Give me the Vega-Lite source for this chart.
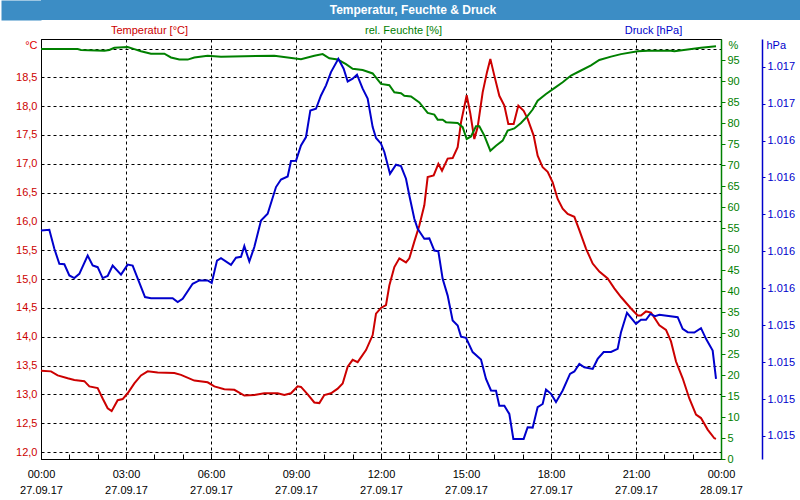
{
  "$schema": "https://vega.github.io/schema/vega-lite/v6.json",
  "background": "white",
  "padding": 0,
  "spacing": 3,
  "config": {
    "font": "Liberation Sans",
    "view": {"stroke": null},
    "axis": {"labelFont": "Liberation Sans", "titleFont": "Liberation Sans", "labelFontSize": 11, "titleFontSize": 11, "titleFontWeight": "normal"}
  },
  "datasets": {
    "temp": [
      {"h": 0.0, "v": 13.41}, {"h": 0.353, "v": 13.40}, {"h": 0.588, "v": 13.33}, {"h": 0.941, "v": 13.28}, {"h": 1.176, "v": 13.25},
      {"h": 1.529, "v": 13.23}, {"h": 1.706, "v": 13.14}, {"h": 2.0, "v": 13.11}, {"h": 2.176, "v": 12.93}, {"h": 2.353, "v": 12.76},
      {"h": 2.494, "v": 12.71}, {"h": 2.706, "v": 12.90}, {"h": 2.882, "v": 12.92}, {"h": 3.059, "v": 13.02}, {"h": 3.294, "v": 13.19},
      {"h": 3.529, "v": 13.33}, {"h": 3.765, "v": 13.40}, {"h": 4.118, "v": 13.38}, {"h": 4.706, "v": 13.37}, {"h": 4.941, "v": 13.34},
      {"h": 5.412, "v": 13.24}, {"h": 5.882, "v": 13.21}, {"h": 6.118, "v": 13.14}, {"h": 6.471, "v": 13.09}, {"h": 6.824, "v": 13.08},
      {"h": 7.176, "v": 12.98}, {"h": 7.529, "v": 12.99}, {"h": 7.882, "v": 13.02}, {"h": 8.353, "v": 13.02}, {"h": 8.588, "v": 12.99},
      {"h": 8.824, "v": 13.02}, {"h": 9.059, "v": 13.14}, {"h": 9.176, "v": 13.13}, {"h": 9.412, "v": 13.00}, {"h": 9.647, "v": 12.86},
      {"h": 9.824, "v": 12.85}, {"h": 10.0, "v": 12.99}, {"h": 10.235, "v": 13.02}, {"h": 10.471, "v": 13.10}, {"h": 10.647, "v": 13.19},
      {"h": 10.824, "v": 13.48}, {"h": 11.0, "v": 13.60}, {"h": 11.176, "v": 13.56}, {"h": 11.471, "v": 13.77}, {"h": 11.706, "v": 14.03},
      {"h": 11.824, "v": 14.40}, {"h": 12.0, "v": 14.50}, {"h": 12.176, "v": 14.55}, {"h": 12.294, "v": 14.89}, {"h": 12.471, "v": 15.21},
      {"h": 12.647, "v": 15.36}, {"h": 12.882, "v": 15.29}, {"h": 13.0, "v": 15.36}, {"h": 13.176, "v": 15.65}, {"h": 13.353, "v": 15.93},
      {"h": 13.529, "v": 16.28}, {"h": 13.647, "v": 16.77}, {"h": 13.859, "v": 16.80}, {"h": 14.024, "v": 17.00}, {"h": 14.153, "v": 16.88},
      {"h": 14.353, "v": 17.09}, {"h": 14.529, "v": 17.10}, {"h": 14.706, "v": 17.29}, {"h": 14.824, "v": 17.72}, {"h": 15.024, "v": 18.19},
      {"h": 15.153, "v": 17.87}, {"h": 15.294, "v": 17.43}, {"h": 15.412, "v": 17.64}, {"h": 15.588, "v": 18.24}, {"h": 15.741, "v": 18.59},
      {"h": 15.859, "v": 18.82}, {"h": 16.0, "v": 18.53}, {"h": 16.176, "v": 18.18}, {"h": 16.353, "v": 18.01}, {"h": 16.494, "v": 17.69},
      {"h": 16.682, "v": 17.69}, {"h": 16.847, "v": 18.01}, {"h": 17.035, "v": 17.92}, {"h": 17.176, "v": 17.78}, {"h": 17.388, "v": 17.49},
      {"h": 17.529, "v": 17.14}, {"h": 17.706, "v": 16.94}, {"h": 17.882, "v": 16.86}, {"h": 18.059, "v": 16.68}, {"h": 18.235, "v": 16.39},
      {"h": 18.412, "v": 16.22}, {"h": 18.588, "v": 16.13}, {"h": 18.824, "v": 16.08}, {"h": 19.0, "v": 15.85}, {"h": 19.235, "v": 15.53},
      {"h": 19.471, "v": 15.27}, {"h": 19.706, "v": 15.13}, {"h": 20.0, "v": 15.01}, {"h": 20.235, "v": 14.84}, {"h": 20.471, "v": 14.69},
      {"h": 20.824, "v": 14.49}, {"h": 21.059, "v": 14.37}, {"h": 21.176, "v": 14.37}, {"h": 21.353, "v": 14.44}, {"h": 21.529, "v": 14.42},
      {"h": 21.824, "v": 14.20}, {"h": 22.059, "v": 14.12}, {"h": 22.235, "v": 13.92}, {"h": 22.412, "v": 13.57}, {"h": 22.647, "v": 13.28},
      {"h": 22.882, "v": 12.93}, {"h": 23.118, "v": 12.65}, {"h": 23.294, "v": 12.59}, {"h": 23.529, "v": 12.39}, {"h": 23.765, "v": 12.24},
      {"h": 23.824, "v": 12.23}
    ],
    "hum": [
      {"h": 0.0, "v": 97.6}, {"h": 1.294, "v": 97.6}, {"h": 1.412, "v": 97.4}, {"h": 2.235, "v": 97.2}, {"h": 2.412, "v": 97.4},
      {"h": 2.588, "v": 97.9}, {"h": 3.059, "v": 98.1}, {"h": 3.294, "v": 97.6}, {"h": 3.529, "v": 97.1}, {"h": 3.882, "v": 96.5},
      {"h": 4.353, "v": 96.5}, {"h": 4.588, "v": 95.6}, {"h": 4.882, "v": 95.1}, {"h": 5.176, "v": 95.1}, {"h": 5.412, "v": 95.6},
      {"h": 5.882, "v": 96.0}, {"h": 6.353, "v": 95.8}, {"h": 8.235, "v": 96.0}, {"h": 9.176, "v": 95.2}, {"h": 9.647, "v": 96.0},
      {"h": 9.941, "v": 96.4}, {"h": 10.176, "v": 95.4}, {"h": 10.471, "v": 95.1}, {"h": 10.765, "v": 94.0}, {"h": 11.0, "v": 92.9},
      {"h": 11.353, "v": 92.6}, {"h": 11.706, "v": 91.8}, {"h": 12.0, "v": 89.3}, {"h": 12.294, "v": 89.0}, {"h": 12.471, "v": 87.3},
      {"h": 12.706, "v": 87.1}, {"h": 12.824, "v": 86.5}, {"h": 13.059, "v": 86.3}, {"h": 13.353, "v": 84.9}, {"h": 13.647, "v": 82.4},
      {"h": 13.882, "v": 82.0}, {"h": 14.0, "v": 80.8}, {"h": 14.176, "v": 80.8}, {"h": 14.294, "v": 80.2}, {"h": 14.706, "v": 80.0},
      {"h": 14.882, "v": 79.0}, {"h": 15.024, "v": 76.2}, {"h": 15.176, "v": 76.8}, {"h": 15.353, "v": 79.2}, {"h": 15.471, "v": 79.2},
      {"h": 15.647, "v": 77.0}, {"h": 15.859, "v": 73.4}, {"h": 16.059, "v": 74.6}, {"h": 16.294, "v": 75.8}, {"h": 16.471, "v": 78.2},
      {"h": 16.706, "v": 78.7}, {"h": 16.941, "v": 80.0}, {"h": 17.176, "v": 81.7}, {"h": 17.353, "v": 83.2}, {"h": 17.529, "v": 85.3},
      {"h": 17.824, "v": 86.9}, {"h": 18.118, "v": 88.3}, {"h": 18.412, "v": 89.7}, {"h": 18.706, "v": 91.3}, {"h": 19.059, "v": 92.5},
      {"h": 19.412, "v": 93.7}, {"h": 19.706, "v": 95.0}, {"h": 20.118, "v": 95.8}, {"h": 20.471, "v": 96.4}, {"h": 21.059, "v": 97.1},
      {"h": 21.412, "v": 97.2}, {"h": 22.235, "v": 97.2}, {"h": 22.353, "v": 97.1}, {"h": 22.824, "v": 97.5}, {"h": 23.294, "v": 97.9},
      {"h": 23.824, "v": 98.3}
    ],
    "press": [
      {"h": 0.0, "v": 1015.913}, {"h": 0.294, "v": 1015.917}, {"h": 0.471, "v": 1015.814}, {"h": 0.647, "v": 1015.732}, {"h": 0.824, "v": 1015.730},
      {"h": 1.0, "v": 1015.669}, {"h": 1.176, "v": 1015.655}, {"h": 1.353, "v": 1015.678}, {"h": 1.647, "v": 1015.777}, {"h": 1.824, "v": 1015.723},
      {"h": 2.0, "v": 1015.714}, {"h": 2.176, "v": 1015.655}, {"h": 2.353, "v": 1015.666}, {"h": 2.529, "v": 1015.723}, {"h": 2.824, "v": 1015.674},
      {"h": 3.059, "v": 1015.728}, {"h": 3.235, "v": 1015.723}, {"h": 3.671, "v": 1015.552}, {"h": 3.882, "v": 1015.546}, {"h": 4.647, "v": 1015.546},
      {"h": 4.824, "v": 1015.525}, {"h": 5.0, "v": 1015.543}, {"h": 5.353, "v": 1015.624}, {"h": 5.588, "v": 1015.642}, {"h": 5.882, "v": 1015.642},
      {"h": 6.024, "v": 1015.629}, {"h": 6.212, "v": 1015.750}, {"h": 6.353, "v": 1015.763}, {"h": 6.706, "v": 1015.727}, {"h": 6.882, "v": 1015.765},
      {"h": 7.059, "v": 1015.770}, {"h": 7.176, "v": 1015.828}, {"h": 7.353, "v": 1015.745}, {"h": 7.529, "v": 1015.823}, {"h": 7.765, "v": 1015.967},
      {"h": 8.0, "v": 1016.003}, {"h": 8.294, "v": 1016.148}, {"h": 8.471, "v": 1016.189}, {"h": 8.706, "v": 1016.205}, {"h": 8.824, "v": 1016.289},
      {"h": 9.0, "v": 1016.290}, {"h": 9.176, "v": 1016.373}, {"h": 9.353, "v": 1016.419}, {"h": 9.506, "v": 1016.563}, {"h": 9.706, "v": 1016.572},
      {"h": 9.882, "v": 1016.644}, {"h": 10.059, "v": 1016.699}, {"h": 10.235, "v": 1016.771}, {"h": 10.494, "v": 1016.843}, {"h": 10.682, "v": 1016.789},
      {"h": 10.824, "v": 1016.720}, {"h": 11.0, "v": 1016.735}, {"h": 11.153, "v": 1016.757}, {"h": 11.353, "v": 1016.681}, {"h": 11.529, "v": 1016.627},
      {"h": 11.706, "v": 1016.473}, {"h": 11.824, "v": 1016.414}, {"h": 12.0, "v": 1016.383}, {"h": 12.118, "v": 1016.338}, {"h": 12.318, "v": 1016.220},
      {"h": 12.529, "v": 1016.269}, {"h": 12.706, "v": 1016.262}, {"h": 12.882, "v": 1016.193}, {"h": 13.0, "v": 1016.102}, {"h": 13.176, "v": 1015.976},
      {"h": 13.294, "v": 1015.922}, {"h": 13.529, "v": 1015.868}, {"h": 13.706, "v": 1015.870}, {"h": 13.882, "v": 1015.804}, {"h": 14.024, "v": 1015.800},
      {"h": 14.176, "v": 1015.651}, {"h": 14.353, "v": 1015.560}, {"h": 14.529, "v": 1015.425}, {"h": 14.706, "v": 1015.398}, {"h": 14.824, "v": 1015.338},
      {"h": 15.0, "v": 1015.331}, {"h": 15.235, "v": 1015.254}, {"h": 15.529, "v": 1015.214}, {"h": 15.706, "v": 1015.109}, {"h": 15.882, "v": 1015.046},
      {"h": 16.059, "v": 1015.045}, {"h": 16.176, "v": 1014.964}, {"h": 16.353, "v": 1014.964}, {"h": 16.529, "v": 1014.919}, {"h": 16.671, "v": 1014.784},
      {"h": 17.035, "v": 1014.784}, {"h": 17.176, "v": 1014.847}, {"h": 17.353, "v": 1014.845}, {"h": 17.529, "v": 1014.956}, {"h": 17.706, "v": 1014.973},
      {"h": 17.824, "v": 1015.051}, {"h": 18.0, "v": 1015.028}, {"h": 18.176, "v": 1014.983}, {"h": 18.412, "v": 1015.046}, {"h": 18.671, "v": 1015.136},
      {"h": 18.824, "v": 1015.149}, {"h": 19.0, "v": 1015.190}, {"h": 19.176, "v": 1015.172}, {"h": 19.471, "v": 1015.163}, {"h": 19.647, "v": 1015.217},
      {"h": 19.859, "v": 1015.254}, {"h": 20.118, "v": 1015.255}, {"h": 20.353, "v": 1015.272}, {"h": 20.471, "v": 1015.362}, {"h": 20.682, "v": 1015.467},
      {"h": 21.0, "v": 1015.407}, {"h": 21.176, "v": 1015.429}, {"h": 21.353, "v": 1015.429}, {"h": 21.506, "v": 1015.461}, {"h": 21.671, "v": 1015.449},
      {"h": 21.824, "v": 1015.456}, {"h": 22.471, "v": 1015.443}, {"h": 22.647, "v": 1015.380}, {"h": 22.824, "v": 1015.362}, {"h": 23.059, "v": 1015.360},
      {"h": 23.294, "v": 1015.384}, {"h": 23.471, "v": 1015.326}, {"h": 23.706, "v": 1015.262}, {"h": 23.824, "v": 1015.109}
    ],
    "header": [{"t": "Temperatur, Feuchte & Druck"}]
  },
  "vconcat": [
    {
      "width": 760,
      "height": 20,
      "view": {"fill": "#3c8dc5", "stroke": null},
      "data": {"name": "header"},
      "mark": {"type": "text", "color": "white", "font": "Liberation Sans", "fontWeight": "bold", "fontSize": 12, "dx": -8},
      "encoding": {
        "text": {"field": "t", "type": "nominal"},
        "y": {
          "field": "t", "type": "nominal",
          "scale": {"paddingInner": 0, "paddingOuter": 0},
          "axis": {
            "orient": "left", "labels": false, "ticks": false, "title": null, "grid": false,
            "domain": true, "domainWidth": 40, "domainColor": "#3c8dc5", "domainCap": "butt", "offset": 20, "minExtent": 0
          }
        }
      }
    },
    {
      "width": 680,
      "height": 420,
      "view": {"stroke": "black", "strokeWidth": 1},
      "resolve": {"scale": {"y": "independent"}, "axis": {"x": "independent", "y": "independent"}},
      "layer": [
        {
          "data": {"name": "temp"},
          "mark": {"type": "line", "color": "#cc0000", "strokeWidth": 2, "interpolate": "linear"},
          "encoding": {
            "x": {
              "field": "h", "type": "quantitative",
              "scale": {"domain": [0, 24], "nice": false, "zero": false},
              "axis": {
                "orient": "bottom",
                "values": [0,1,2,3,4,5,6,7,8,9,10,11,12,13,14,15,16,17,18,19,20,21,22,23,24],
                "labelExpr": "datum.value % 3 == 0 ? [(datum.value % 24 < 10 ? '0' : '') + (datum.value % 24) + ':00', datum.value < 24 ? '27.09.17' : '28.09.17'] : ''",
                "labelColor": "black", "labelLineHeight": 16, "labelPadding": 14, "labelFlush": false, "labelOverlap": false,
                "tickSize": -5, "tickColor": "black", "tickWidth": 1,
                "domain": true, "domainColor": "black", "domainWidth": 1,
                "grid": true, "gridColor": "black", "gridDash": [3, 3], "gridWidth": 1,
                "gridOpacity": {"condition": {"test": "datum.value % 3 != 0", "value": 0}, "value": 1},
                "title": "Temperatur [°C]", "titleColor": "#cc0000", "titleX": 108, "titleY": -429,
                "titleBaseline": "middle", "titleAlign": "center", "titleAnchor": null
              }
            },
            "y": {
              "field": "v", "type": "quantitative",
              "scale": {"domain": [11.88, 19.165], "nice": false, "zero": false},
              "axis": {
                "orient": "left", "minExtent": 40,
                "values": [12, 12.5, 13, 13.5, 14, 14.5, 15, 15.5, 16, 16.5, 17, 17.5, 18, 18.5, 19],
                "labelExpr": "datum.value >= 19 ? '' : replace(format(datum.value, '.1f'), '.', ',')",
                "labelColor": "#cc0000", "labelPadding": 4, "ticks": false,
                "domain": true, "domainColor": "black",
                "grid": true, "gridColor": "black", "gridDash": [3, 3], "gridWidth": 1, "gridOpacity": 1,
                "title": "°C", "titleColor": "#e00000", "titleAngle": 0, "titleAlign": "right",
                "titleX": -4, "titleY": 6, "titleBaseline": "middle", "titleAnchor": null
              }
            }
          }
        },
        {
          "data": {"name": "hum"},
          "mark": {"type": "line", "color": "#008000", "strokeWidth": 2},
          "encoding": {
            "x": {
              "field": "h", "type": "quantitative",
              "axis": {
                "orient": "top", "labels": false, "ticks": false, "domain": false, "grid": false,
                "title": "rel. Feuchte [%]", "titleColor": "#008000", "titleX": 362, "titleY": -9,
                "titleBaseline": "middle", "titleAlign": "center", "titleAnchor": null
              }
            },
            "y": {
              "field": "v", "type": "quantitative",
              "scale": {"domain": [0, 100], "nice": false, "zero": false},
              "axis": {
                "orient": "right",
                "values": [0,5,10,15,20,25,30,35,40,45,50,55,60,65,70,75,80,85,90,95],
                "labelColor": "#008000", "labelPadding": 2, "labelFlush": false, "labelOverlap": false,
                "tickColor": "#008000", "tickSize": 4,
                "domain": true, "domainColor": "#008000", "domainWidth": 1.5,
                "grid": false,
                "title": "%", "titleColor": "#008000", "titleAngle": 0, "titleAlign": "left",
                "titleX": 7, "titleY": 6, "titleBaseline": "middle", "titleAnchor": null
              }
            }
          }
        },
        {
          "data": {"name": "press"},
          "mark": {"type": "line", "color": "#0000cc", "strokeWidth": 2},
          "encoding": {
            "x": {
              "field": "h", "type": "quantitative",
              "axis": {
                "orient": "top", "labels": false, "ticks": false, "domain": false, "grid": false,
                "title": "Druck [hPa]", "titleColor": "#0000cc", "titleX": 612, "titleY": -9,
                "titleBaseline": "middle", "titleAlign": "center", "titleAnchor": null
              }
            },
            "y": {
              "field": "v", "type": "quantitative",
              "scale": {"domain": [1014.675, 1016.95], "nice": false, "zero": false},
              "axis": {
                "orient": "right", "offset": 41,
                "values": [1014.8, 1015.0, 1015.2, 1015.4, 1015.6, 1015.8, 1016.0, 1016.2, 1016.4, 1016.6, 1016.8],
                "labelExpr": "replace(format(datum.value, ',.0f'), ',', '.')",
                "labelColor": "#0000cc", "labelPadding": 2, "labelFlush": false, "labelOverlap": false,
                "tickColor": "#0000cc", "tickSize": 3,
                "domain": true, "domainColor": "#0000cc", "domainWidth": 1.5,
                "grid": false,
                "title": "hPa", "titleColor": "#0000cc", "titleAngle": 0, "titleAlign": "left",
                "titleX": 4, "titleY": 6, "titleBaseline": "middle", "titleAnchor": null
              }
            }
          }
        }
      ]
    }
  ]
}
